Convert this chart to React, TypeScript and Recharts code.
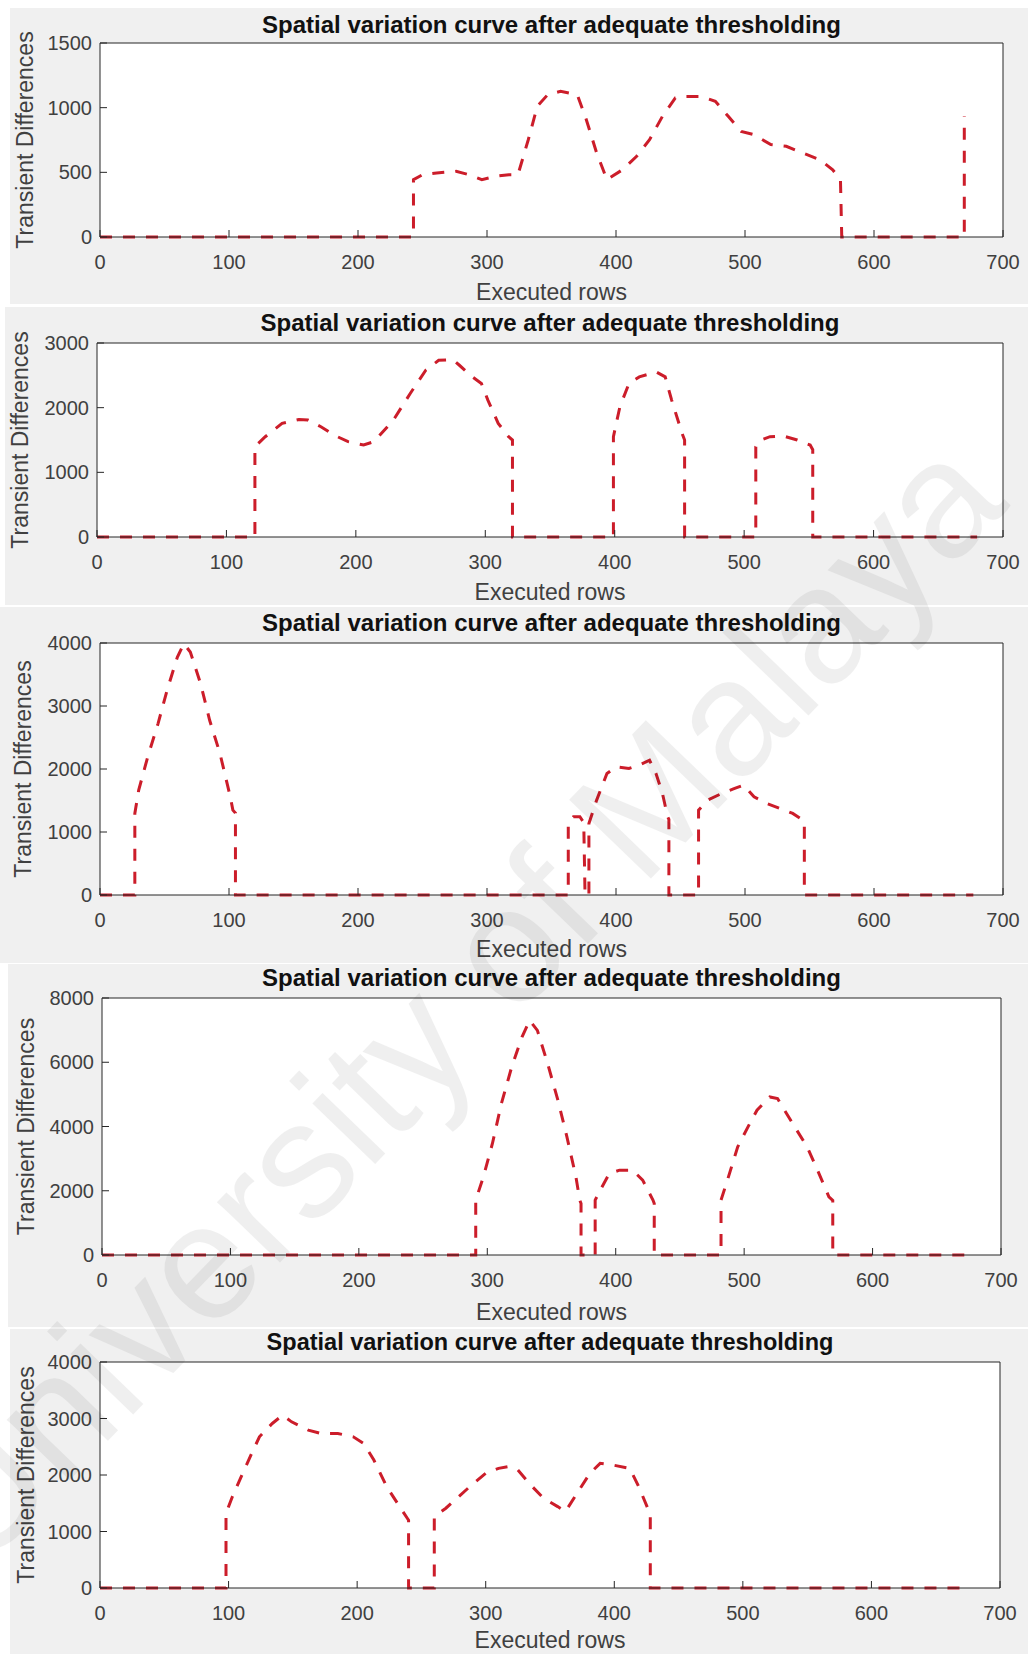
import { LineChart, Line, XAxis, YAxis, CartesianGrid } from "recharts";

const TITLE = "Spatial variation curve after adequate thresholding";
const X_LABEL = "Executed rows";
const Y_LABEL = "Transient Differences";

const rowTicks = [0, 100, 200, 300, 400, 500, 600, 700];

// panel 1
const rows1 = [0, 243, 243, 250, 261, 276, 286, 296, 306, 317, 324, 332, 339, 347, 357, 370, 377, 385, 393, 405, 416, 426, 436, 446, 454, 466, 477, 487, 497, 507, 520, 532, 545, 558, 568, 574, 575, 670, 670];
const diff1 = [0, 0, 443, 482, 495, 508, 482, 443, 469, 482, 482, 752, 1010, 1100, 1126, 1100, 907, 650, 443, 520, 624, 752, 933, 1075, 1087, 1087, 1049, 933, 817, 791, 714, 701, 649, 598, 520, 443, 0, 0, 933];
const yTicks1 = [0, 500, 1000, 1500];

// panel 2
const rows2 = [0, 122, 122, 130, 143, 156, 163, 173, 183, 194, 206, 214, 229, 242, 254, 264, 275, 280, 290, 297, 302, 310, 318, 321, 321, 399, 399, 404, 411, 419, 432, 439, 444, 452, 454, 454, 509, 509, 513, 520, 530, 541, 551, 553, 553, 680];
const diff2 = [0, 0, 1397, 1551, 1757, 1818, 1808, 1705, 1577, 1474, 1423, 1474, 1808, 2219, 2579, 2733, 2743, 2656, 2476, 2373, 2117, 1757, 1551, 1500, 0, 0, 1551, 2014, 2373, 2476, 2553, 2476, 2117, 1603, 1500, 0, 0, 1397, 1500, 1551, 1562, 1500, 1423, 1350, 0, 0];
const yTicks2 = [0, 1000, 2000, 3000];

// panel 3
const rows3 = [0, 27, 27, 30, 37, 45, 52, 60, 65, 70, 78, 85, 93, 101, 103, 105, 105, 363, 363, 367, 372, 375, 376, 379, 379, 385, 393, 400, 410, 418, 426, 431, 436, 440, 441, 441, 464, 464, 471, 482, 492, 499, 507, 517, 527, 537, 545, 546, 546, 677];
const diff3 = [0, 0, 1295, 1664, 2193, 2721, 3250, 3778, 3990, 3857, 3355, 2774, 2246, 1559, 1347, 1300, 0, 0, 1136, 1242, 1242, 1150, 0, 0, 1136, 1506, 1929, 2034, 2008, 2061, 2140, 1929, 1612, 1242, 1200, 0, 0, 1347, 1506, 1612, 1691, 1744, 1559, 1453, 1374, 1295, 1189, 1150, 0, 0];
const yTicks3 = [0, 1000, 2000, 3000, 4000];

// panel 4
const rows4 = [0, 291, 291, 297, 304, 311, 319, 327, 333, 339, 347, 355, 362, 369, 372, 373, 373, 384, 384, 388, 395, 403, 413, 421, 429, 430, 430, 482, 482, 487, 495, 503, 510, 520, 526, 533, 541, 549, 556, 566, 569, 569, 675];
const diff4 = [0, 0, 1709, 2435, 3471, 4714, 5853, 6786, 7304, 6993, 5957, 4817, 3678, 2435, 1709, 1600, 0, 0, 1709, 2020, 2538, 2642, 2642, 2331, 1709, 1600, 0, 0, 1709, 2331, 3367, 3989, 4507, 4921, 4869, 4403, 3885, 3367, 2745, 1813, 1700, 0, 0];
const yTicks4 = [0, 2000, 4000, 6000, 8000];

// panel 5
const rows5 = [0, 98, 98, 103, 111, 118, 124, 134, 142, 149, 162, 172, 185, 197, 205, 213, 223, 233, 239, 240, 240, 260, 260, 269, 279, 289, 300, 310, 317, 325, 335, 345, 356, 362, 371, 381, 389, 399, 412, 419, 426, 428, 428, 677];
const diff5 = [0, 0, 1323, 1618, 2029, 2382, 2676, 2912, 3059, 2941, 2794, 2735, 2735, 2676, 2559, 2265, 1794, 1441, 1235, 1200, 0, 0, 1265, 1412, 1618, 1823, 2029, 2118, 2147, 2088, 1823, 1588, 1441, 1353, 1676, 2029, 2206, 2176, 2118, 1794, 1412, 1350, 0, 0];
const yTicks5 = [0, 1000, 2000, 3000, 4000];

// page layout, in px: gray box (left, top, height), plot box (l, t, r, b), label spots
const layout = [
  { bgL: 10, bgT: 8, bgH: 296, l: 100, t: 43, r: 1003, b: 237, titleY: 25, titleSize: 24, xlabY: 292, ylabX: 25 },
  { bgL: 5, bgT: 307, bgH: 298, l: 97, t: 343, r: 1003, b: 537, titleY: 323, titleSize: 24, xlabY: 592, ylabX: 20 },
  { bgL: 0, bgT: 607, bgH: 356, l: 100, t: 643, r: 1003, b: 895, titleY: 623, titleSize: 24, xlabY: 949, ylabX: 23 },
  { bgL: 8, bgT: 964, bgH: 363, l: 102, t: 998, r: 1001, b: 1255, titleY: 978, titleSize: 24, xlabY: 1312, ylabX: 26 },
  { bgL: 10, bgT: 1329, bgH: 325, l: 100, t: 1362, r: 1000, b: 1588, titleY: 1343, titleSize: 23.5, xlabY: 1640, ylabX: 26 },
];

const panels = [
  { rows: rows1, diff: diff1, yTicks: yTicks1 },
  { rows: rows2, diff: diff2, yTicks: yTicks2 },
  { rows: rows3, diff: diff3, yTicks: yTicks3 },
  { rows: rows4, diff: diff4, yTicks: yTicks4 },
  { rows: rows5, diff: diff5, yTicks: yTicks5 },
];

const FONT = "'Liberation Sans', Arial, Helvetica, sans-serif";
const AXIS = "#262626";
const TEXT = "#404040";
const RED = "#cc1d2a";
const PAGE_W = 1028;

function Panel({ p, box }: any) {
  const w = PAGE_W - box.bgL;
  const data = p.rows.map((x: number, i: number) => ({ x, y: p.diff[i] }));
  const yMax = p.yTicks[p.yTicks.length - 1];
  const xAxisH = box.bgT + box.bgH - box.b;
  const tickStyle = { fontSize: 20, fill: TEXT, fontFamily: FONT };

  return (
    <div
      style={{
        position: "absolute",
        left: box.bgL,
        top: box.bgT,
        width: w,
        height: box.bgH,
        background: "#f0f0f0",
      }}
    >
      <div
        style={{
          position: "absolute",
          left: box.l - box.bgL,
          width: box.r - box.l,
          top: box.titleY - box.bgT - box.titleSize / 2,
          lineHeight: `${box.titleSize}px`,
          fontSize: box.titleSize,
          fontWeight: "bold",
          fontFamily: FONT,
          color: "#111",
          textAlign: "center",
          whiteSpace: "nowrap",
        }}
      >
        {TITLE}
      </div>
      <LineChart
        width={w}
        height={box.bgH}
        data={data}
        margin={{ top: box.t - box.bgT - 1, right: PAGE_W - box.r - 1, bottom: 0, left: 0 }}
        style={{ position: "absolute", left: 0, top: 0 }}
      >
        <CartesianGrid horizontal={false} vertical={false} fill="#fff" />
        <XAxis
          dataKey="x"
          type="number"
          domain={[0, 700]}
          ticks={rowTicks}
          interval={0}
          height={xAxisH}
          tickSize={-7}
          tickMargin={25}
          tick={tickStyle}
          axisLine={{ stroke: AXIS }}
          tickLine={{ stroke: AXIS }}
          label={{
            value: X_LABEL,
            position: "insideBottom",
            offset: box.bgT + box.bgH - (box.xlabY + 8),
            style: { fontSize: 23, fill: TEXT, fontFamily: FONT },
          }}
        />
        {/* box top edge, ticks only */}
        <XAxis
          xAxisId="top"
          orientation="top"
          type="number"
          domain={[0, 700]}
          allowDataOverflow
          ticks={rowTicks}
          interval={0}
          height={1}
          tickSize={-7}
          tick={false}
          axisLine={{ stroke: AXIS }}
          tickLine={{ stroke: AXIS }}
        />
        <YAxis
          type="number"
          domain={[0, yMax]}
          ticks={p.yTicks}
          interval={0}
          width={box.l - box.bgL}
          tickSize={-7}
          tickMargin={15}
          tick={tickStyle}
          axisLine={{ stroke: AXIS }}
          tickLine={{ stroke: AXIS }}
          label={{
            value: Y_LABEL,
            angle: -90,
            position: "insideLeft",
            offset: box.ylabX - box.bgL,
            style: { fontSize: 23, fill: TEXT, fontFamily: FONT, textAnchor: "middle" },
          }}
        />
        {/* box right edge */}
        <YAxis
          yAxisId="right"
          orientation="right"
          type="number"
          domain={[0, yMax]}
          allowDataOverflow
          ticks={p.yTicks}
          interval={0}
          width={1}
          tickSize={-7}
          tick={false}
          axisLine={{ stroke: AXIS }}
          tickLine={{ stroke: AXIS }}
        />
        <Line
          dataKey="y"
          type="linear"
          stroke={RED}
          strokeWidth={3}
          strokeDasharray="12 11"
          dot={false}
          isAnimationActive={false}
        />
      </LineChart>
    </div>
  );
}

export default function App() {
  return (
    <div
      style={{
        position: "absolute",
        left: 0,
        top: 0,
        width: PAGE_W,
        height: 1654,
        background: "#fff",
        overflow: "hidden",
      }}
    >
      {panels.map((p, i) => (
        <Panel key={i} p={p} box={layout[i]} />
      ))}
      <svg
        width={PAGE_W}
        height={1654}
        style={{ position: "absolute", left: 0, top: 0, pointerEvents: "none" }}
      >
        <text
          x={495}
          y={1040}
          transform="rotate(-46 495 1040)"
          textAnchor="middle"
          fontFamily={FONT}
          fontSize={165}
          fill="#000"
          opacity={0.06}
        >
          University of Malaya
        </text>
      </svg>
    </div>
  );
}
